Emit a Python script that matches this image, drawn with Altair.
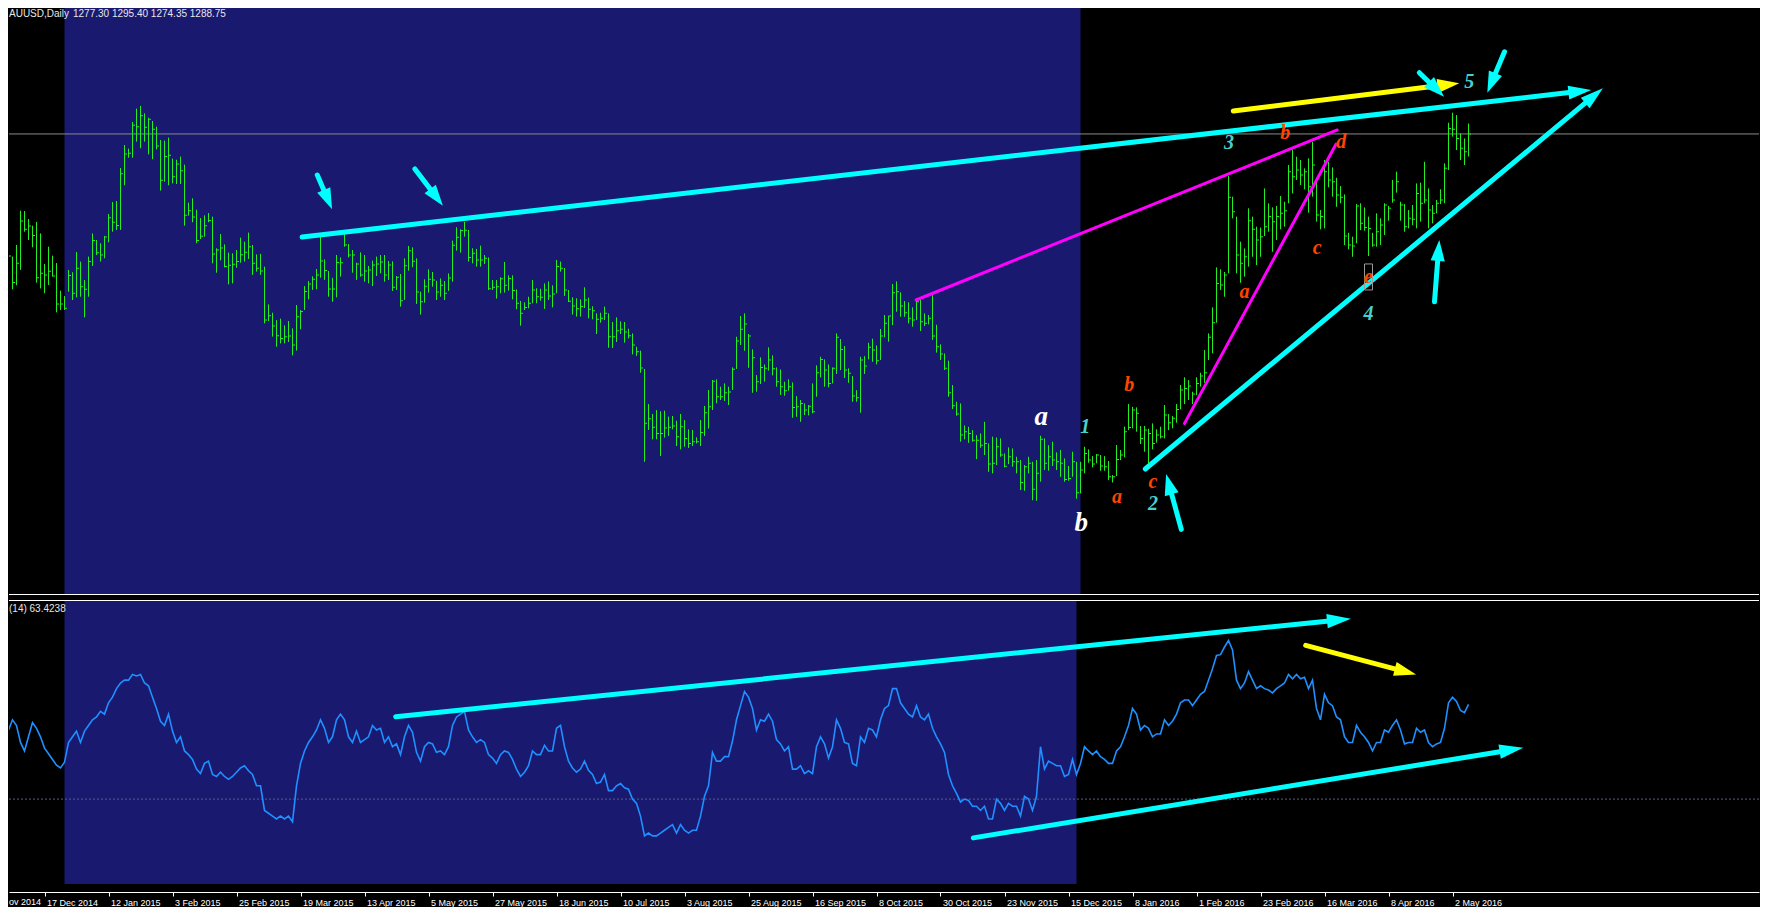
import math
import altair as alt
import pandas as pd

# ---------------- data ----------------
BAR_HIGH = [
    1217.3, 1216.0, 1210.5, 1217.9, 1239.8, 1239.6, 1234.5, 1230.2, 1232.6, 1225.3,
    1205.8, 1216.8, 1211.1, 1206.4, 1188.8, 1185.3, 1202.0, 1200.5, 1213.4, 1207.3,
    1195.6, 1210.5, 1225.3, 1221.1, 1219.0, 1223.6, 1237.7, 1245.3, 1246.0, 1267.0,
    1281.7, 1279.4, 1296.4, 1304.9, 1306.6, 1301.9, 1299.1, 1297.0, 1293.4, 1284.9,
    1284.5, 1286.4, 1273.0, 1272.3, 1274.3, 1269.2, 1244.9, 1247.7, 1240.4, 1235.1,
    1236.8, 1238.3, 1236.0, 1215.8, 1224.9, 1218.3, 1213.0, 1212.6, 1214.7, 1222.6,
    1220.0, 1225.8, 1217.9, 1211.9, 1212.2, 1204.1, 1180.0, 1174.7, 1170.0, 1170.9,
    1166.6, 1169.4, 1164.7, 1179.6, 1176.4, 1191.7, 1194.9, 1197.9, 1202.6, 1223.2,
    1208.7, 1201.3, 1197.0, 1211.5, 1210.0, 1224.9, 1218.5, 1214.7, 1206.6, 1213.2,
    1211.5, 1204.5, 1207.9, 1210.5, 1211.5, 1211.5, 1207.7, 1207.5, 1198.1, 1199.4,
    1209.4, 1217.3, 1216.4, 1209.4, 1188.1, 1196.0, 1202.4, 1200.7, 1195.1, 1196.6,
    1194.9, 1199.8, 1220.7, 1229.2, 1227.9, 1232.6, 1227.5, 1215.8, 1215.4, 1217.5,
    1211.5, 1210.0, 1195.6, 1195.6, 1197.3, 1207.1, 1198.5, 1198.5, 1189.6, 1182.2,
    1181.3, 1184.9, 1195.6, 1190.3, 1190.0, 1193.4, 1194.7, 1192.2, 1208.3, 1207.3,
    1203.2, 1189.2, 1184.5, 1183.9, 1183.2, 1190.9, 1184.3, 1178.8, 1174.3, 1174.7,
    1178.6, 1174.3, 1168.8, 1171.7, 1169.2, 1168.8, 1164.5, 1161.5, 1153.0, 1150.5,
    1138.8, 1116.4, 1110.1, 1112.6, 1111.8, 1112.2, 1108.4, 1108.8, 1105.8, 1110.1,
    1106.2, 1100.3, 1099.9, 1095.2, 1106.2, 1115.2, 1125.4, 1131.8, 1132.2, 1127.5,
    1129.6, 1127.5, 1139.8, 1159.4, 1172.6, 1174.3, 1161.1, 1151.3, 1134.9, 1146.2,
    1141.7, 1152.6, 1147.5, 1139.8, 1138.5, 1130.7, 1132.2, 1130.2, 1121.5, 1119.0,
    1116.8, 1115.8, 1129.6, 1141.1, 1146.6, 1144.9, 1141.7, 1139.8, 1161.5, 1157.9,
    1153.4, 1139.2, 1134.3, 1125.3, 1146.6, 1147.0, 1155.5, 1158.1, 1153.8, 1164.3,
    1173.2, 1172.8, 1193.0, 1194.7, 1187.7, 1182.1, 1181.3, 1178.1, 1183.2, 1182.8,
    1174.3, 1173.2, 1185.8, 1167.0, 1154.5, 1148.7, 1144.1, 1128.5, 1117.9, 1116.8,
    1102.8, 1101.9, 1099.8, 1096.6, 1097.7, 1105.1, 1091.3, 1095.6, 1095.1, 1094.5,
    1084.9, 1088.8, 1088.1, 1082.8, 1080.7, 1077.5, 1082.8, 1079.6, 1080.7, 1096.2,
    1094.5, 1090.2, 1092.4, 1085.6, 1087.1, 1081.7, 1076.9, 1086.0, 1079.6, 1079.6,
    1089.2, 1087.5, 1083.2, 1084.5, 1083.9, 1083.2, 1080.1, 1071.1, 1090.3, 1087.1,
    1102.0, 1116.4, 1114.7, 1114.3, 1102.4, 1102.4, 1100.7, 1104.1, 1100.3, 1102.0,
    1115.8, 1110.0, 1108.8, 1116.4, 1128.6, 1133.5, 1131.7, 1124.3, 1133.5, 1136.4,
    1150.9, 1161.5, 1178.1, 1203.6, 1202.4, 1200.7, 1261.9, 1248.7, 1236.0, 1220.0,
    1215.7, 1241.3, 1236.0, 1229.6, 1229.0, 1254.0, 1244.5, 1241.9, 1242.8, 1249.1,
    1245.5, 1268.9, 1278.9, 1274.2, 1272.1, 1266.8, 1273.2, 1283.8, 1258.3, 1240.2,
    1272.1, 1271.0, 1267.4, 1260.8, 1255.5, 1250.2, 1225.7, 1223.2, 1244.0, 1244.5,
    1241.9, 1236.0, 1225.7, 1238.1, 1234.9, 1244.5, 1242.8, 1259.4, 1264.7, 1245.5,
    1244.0, 1240.2, 1243.4, 1257.2, 1257.7, 1271.0, 1254.0, 1243.4, 1246.6, 1253.4,
    1270.0, 1295.9, 1302.3, 1300.8, 1289.1, 1285.9, 1295.40,
]
BAR_LOW = [
    1197.3, 1204.1, 1189.6, 1192.2, 1202.0, 1226.4, 1221.1, 1216.4, 1193.9, 1190.2,
    1187.1, 1192.4, 1197.7, 1174.9, 1176.4, 1176.4, 1188.1, 1182.8, 1184.5, 1184.9,
    1171.7, 1184.9, 1204.5, 1211.5, 1207.3, 1209.4, 1219.6, 1226.4, 1227.5, 1227.5,
    1256.0, 1273.6, 1273.6, 1283.8, 1279.6, 1283.8, 1275.7, 1272.6, 1278.9, 1252.6,
    1258.3, 1256.0, 1257.2, 1256.8, 1256.8, 1230.2, 1236.6, 1232.4, 1219.0, 1221.7,
    1223.2, 1232.4, 1206.2, 1200.2, 1208.1, 1203.6, 1192.8, 1193.4, 1203.4, 1206.6,
    1207.3, 1209.0, 1198.8, 1200.9, 1198.8, 1167.9, 1169.4, 1159.4, 1153.0, 1155.1,
    1155.1, 1156.0, 1147.5, 1150.5, 1164.1, 1176.4, 1183.2, 1189.2, 1189.6, 1197.0,
    1195.6, 1184.9, 1181.7, 1184.5, 1197.7, 1216.8, 1210.0, 1200.2, 1195.6, 1197.7,
    1194.5, 1193.4, 1191.7, 1198.1, 1199.8, 1194.5, 1195.6, 1188.6, 1189.2, 1178.6,
    1182.8, 1201.5, 1203.7, 1180.3, 1173.5, 1181.1, 1187.5, 1191.3, 1182.8, 1184.9,
    1182.8, 1188.6, 1194.5, 1214.3, 1213.0, 1223.2, 1207.3, 1206.2, 1204.1, 1204.1,
    1205.8, 1189.2, 1189.2, 1183.7, 1187.1, 1187.5, 1188.8, 1183.2, 1176.9, 1166.4,
    1176.4, 1177.5, 1180.7, 1180.7, 1182.4, 1177.1, 1182.8, 1178.1, 1187.1, 1200.9,
    1185.4, 1181.5, 1173.5, 1172.2, 1172.2, 1177.7, 1171.1, 1170.5, 1161.1, 1168.3,
    1170.0, 1152.4, 1152.2, 1156.0, 1161.1, 1155.6, 1158.3, 1148.1, 1147.1, 1136.4,
    1079.6, 1099.9, 1093.9, 1093.9, 1083.3, 1095.0, 1096.0, 1100.3, 1089.6, 1087.5,
    1089.2, 1088.4, 1089.6, 1091.3, 1089.6, 1096.0, 1100.7, 1112.6, 1116.9, 1119.0,
    1118.4, 1115.8, 1125.4, 1138.8, 1154.1, 1150.4, 1139.6, 1123.6, 1124.3, 1129.2,
    1130.7, 1137.7, 1134.7, 1127.5, 1122.2, 1121.7, 1124.9, 1107.7, 1108.3, 1105.1,
    1109.4, 1109.2, 1110.5, 1121.1, 1133.4, 1127.5, 1127.1, 1129.6, 1135.6, 1138.1,
    1133.0, 1130.0, 1117.9, 1117.9, 1110.9, 1135.6, 1144.9, 1143.4, 1141.7, 1144.5,
    1159.0, 1156.2, 1166.8, 1175.3, 1172.1, 1172.1, 1167.9, 1165.8, 1170.0, 1163.0,
    1166.2, 1167.2, 1157.3, 1149.2, 1144.5, 1138.1, 1121.1, 1113.2, 1109.0, 1092.4,
    1093.9, 1091.7, 1092.4, 1081.3, 1088.5, 1083.9, 1073.2, 1072.2, 1077.5, 1082.8,
    1076.0, 1078.1, 1076.4, 1072.2, 1061.5, 1061.1, 1072.2, 1055.1, 1054.7, 1066.9,
    1074.3, 1073.9, 1076.9, 1074.3, 1070.0, 1066.9, 1067.5, 1070.0, 1056.0, 1059.4,
    1072.2, 1079.0, 1076.0, 1078.6, 1073.9, 1073.9, 1067.9, 1066.4, 1070.5, 1080.7,
    1082.4, 1099.8, 1100.9, 1098.8, 1090.9, 1086.0, 1078.6, 1087.5, 1091.8, 1094.5,
    1094.5, 1099.8, 1100.9, 1104.5, 1113.0, 1116.4, 1119.0, 1116.4, 1122.2, 1127.5,
    1130.0, 1144.5, 1148.8, 1168.3, 1189.2, 1184.9, 1199.8, 1234.9, 1199.8, 1193.8,
    1197.7, 1204.1, 1210.4, 1205.1, 1210.4, 1223.6, 1226.4, 1213.6, 1221.1, 1227.9,
    1229.6, 1244.5, 1250.8, 1259.4, 1256.2, 1253.4, 1238.5, 1248.7, 1232.8, 1227.9,
    1228.5, 1254.7, 1248.7, 1242.3, 1244.5, 1217.9, 1215.1, 1210.4, 1219.0, 1227.4,
    1227.0, 1210.9, 1216.8, 1216.8, 1217.9, 1224.3, 1233.4, 1244.9, 1251.3, 1233.4,
    1226.4, 1228.5, 1230.6, 1228.5, 1232.8, 1244.5, 1228.5, 1231.7, 1238.1, 1244.0,
    1244.5, 1265.7, 1287.0, 1278.5, 1272.1, 1268.9, 1274.35,
]
BAR_CLOSE = [
    1212.2, 1210.9, 1193.9, 1206.2, 1233.2, 1227.9, 1230.0, 1223.9, 1197.0, 1199.8,
    1198.7, 1201.1, 1198.1, 1180.3, 1180.3, 1177.5, 1198.5, 1187.1, 1203.0, 1191.3,
    1189.6, 1207.3, 1220.7, 1213.0, 1211.5, 1223.0, 1235.3, 1232.4, 1230.4, 1263.4,
    1276.0, 1276.4, 1294.3, 1293.4, 1300.4, 1293.0, 1298.1, 1291.7, 1281.1, 1259.2,
    1274.3, 1275.1, 1261.5, 1269.6, 1265.3, 1236.8, 1239.8, 1235.8, 1220.7, 1223.4,
    1230.2, 1233.6, 1212.2, 1214.7, 1216.0, 1204.1, 1204.9, 1205.6, 1207.3, 1211.7,
    1213.2, 1216.8, 1206.2, 1203.0, 1201.3, 1170.0, 1172.8, 1166.2, 1160.0, 1158.3,
    1159.4, 1159.8, 1154.1, 1172.2, 1175.4, 1188.3, 1193.0, 1196.0, 1198.7, 1207.7,
    1201.7, 1189.8, 1189.8, 1206.8, 1206.6, 1217.9, 1211.5, 1211.5, 1205.8, 1198.7,
    1201.3, 1201.9, 1205.1, 1205.8, 1207.1, 1198.8, 1205.1, 1190.9, 1197.3, 1182.4,
    1204.7, 1214.3, 1207.5, 1187.9, 1181.7, 1191.5, 1196.0, 1195.6, 1187.9, 1192.2,
    1187.1, 1196.8, 1217.7, 1222.8, 1227.1, 1227.3, 1210.0, 1212.6, 1208.3, 1208.3,
    1209.4, 1190.0, 1190.9, 1191.3, 1196.4, 1192.2, 1196.6, 1188.8, 1180.7, 1174.3,
    1178.1, 1180.7, 1189.2, 1184.9, 1184.5, 1189.2, 1185.4, 1186.6, 1204.1, 1203.0,
    1189.2, 1182.0, 1179.0, 1177.3, 1178.6, 1182.8, 1176.9, 1176.0, 1170.5, 1171.1,
    1174.3, 1159.4, 1159.4, 1163.2, 1164.1, 1162.4, 1160.0, 1154.1, 1149.8, 1139.4,
    1104.1, 1107.1, 1101.6, 1097.7, 1097.7, 1101.1, 1101.6, 1102.4, 1095.6, 1102.0,
    1094.5, 1091.3, 1092.4, 1092.4, 1098.2, 1110.9, 1114.7, 1130.9, 1121.1, 1121.1,
    1123.7, 1124.1, 1138.6, 1156.6, 1164.1, 1167.5, 1159.8, 1146.0, 1130.7, 1139.8,
    1139.2, 1144.5, 1139.0, 1130.7, 1127.5, 1124.9, 1127.5, 1114.3, 1114.7, 1116.8,
    1112.6, 1115.1, 1111.5, 1136.4, 1144.9, 1138.1, 1129.6, 1139.2, 1159.0, 1151.3,
    1138.1, 1136.0, 1121.5, 1120.5, 1144.5, 1140.7, 1152.6, 1150.9, 1144.1, 1159.8,
    1167.9, 1172.6, 1187.5, 1188.1, 1178.9, 1174.7, 1171.1, 1170.0, 1181.7, 1168.9,
    1167.9, 1171.1, 1159.8, 1153.0, 1148.3, 1139.2, 1123.6, 1115.3, 1110.0, 1096.6,
    1098.8, 1097.7, 1093.4, 1093.4, 1090.2, 1091.3, 1078.1, 1078.6, 1089.2, 1083.9,
    1076.8, 1082.8, 1079.6, 1079.6, 1066.4, 1076.4, 1078.6, 1062.0, 1072.2, 1093.9,
    1078.6, 1082.8, 1080.7, 1079.6, 1078.6, 1068.3, 1069.0, 1079.6, 1059.8, 1074.3,
    1084.9, 1080.7, 1078.1, 1083.9, 1076.9, 1076.4, 1070.0, 1070.1, 1081.1, 1083.9,
    1098.8, 1101.5, 1112.6, 1110.5, 1094.5, 1099.8, 1097.7, 1091.3, 1096.6, 1095.6,
    1109.4, 1104.5, 1107.3, 1113.0, 1125.4, 1126.4, 1127.9, 1122.8, 1129.6, 1134.3,
    1136.4, 1159.0, 1168.3, 1193.4, 1192.4, 1198.7, 1248.3, 1239.1, 1211.5, 1206.2,
    1210.4, 1233.4, 1227.9, 1221.1, 1223.2, 1229.6, 1236.0, 1232.8, 1236.0, 1238.1,
    1239.8, 1264.7, 1261.5, 1265.7, 1262.5, 1264.7, 1255.1, 1268.9, 1237.0, 1236.0,
    1264.7, 1259.4, 1258.3, 1249.8, 1248.3, 1223.6, 1217.9, 1217.2, 1242.8, 1231.7,
    1229.1, 1228.5, 1217.9, 1226.4, 1230.6, 1243.4, 1241.3, 1246.6, 1258.3, 1243.4,
    1229.6, 1234.9, 1234.3, 1250.8, 1244.5, 1246.6, 1240.2, 1238.1, 1244.5, 1246.6,
    1266.8, 1292.3, 1291.7, 1285.9, 1279.6, 1277.4, 1288.75,
]
RSI_VALUES = [
    52.4, 54.4, 58, 56, 50, 47, 52, 57, 55, 52,
    48, 46, 44, 42, 41, 43, 50, 52, 54, 50,
    54, 56, 58, 59, 61, 60, 64, 66, 69, 71,
    72, 72, 74, 73.5, 74, 71, 70, 66, 62, 57.5,
    56, 60, 54, 50, 52, 47, 45.7, 44, 40.6, 39,
    42.6, 43.4, 38.7, 38, 39.5, 38, 37, 38, 39.5, 41,
    41.8, 40, 38.7, 34.7, 34.7, 26, 25, 24, 23, 24,
    23, 24, 22, 34.7, 42.6, 47, 50, 52, 54.4, 58,
    55, 50, 52, 58, 60, 58, 52, 50, 54, 50,
    51, 52, 56, 54.4, 55, 50, 52, 48.5, 49.5, 45.7,
    52, 56, 53.6, 46.5, 43.4, 48.5, 50, 49.5, 46.5, 47,
    45.7, 48.5, 56, 59, 60, 61, 54.4, 52, 50, 51,
    50, 45.7, 44.5, 42.6, 45.7, 47, 46.5, 44, 40.6, 38,
    39.5, 41.8, 47, 45.7, 45.7, 49, 47, 47, 55, 56,
    48.5, 43.4, 41, 39.5, 40.6, 43.4, 40.2, 38.7, 35.5, 36,
    38.7, 33, 33, 34.7, 35.5, 34, 33.5, 30, 28.5, 24,
    17, 18, 17, 17, 18, 19, 20, 21, 18, 21,
    19, 18, 19, 19, 24, 31, 34.7, 46.5, 43.4, 43.4,
    45, 45, 50.5, 58, 63, 68, 66, 62, 54.4, 58,
    57.5, 60, 57.5, 51, 49.5, 47, 48.5, 40.6, 40.6, 41.8,
    39, 40, 39, 48.5, 52, 49.5, 44.5, 48.5, 58, 55,
    50, 49.5, 42.6, 41.8, 52, 50, 55, 54.4, 52, 58,
    62, 63, 69, 69, 64, 62, 60, 59, 63, 59,
    58, 60, 55, 52, 49.5, 46.5, 38.7, 34.7, 32, 29,
    30, 29.5, 27.5, 27.5, 26, 27.5, 23, 23, 30, 28.5,
    26, 28.5, 27.5, 27.5, 24, 31, 30, 26, 31, 48.5,
    40.6, 43.4, 42.6, 41.8, 41.8, 38, 38.7, 44, 38.7, 42.6,
    48.5, 47, 45.7, 47, 45, 44, 42.6, 42.6, 47, 48.5,
    52, 56, 62, 60, 54.4, 56, 55, 52, 53, 53,
    58, 56, 57.5, 60, 64, 65, 65, 63, 65, 67,
    68, 72, 76, 80.7, 81, 83.7, 86, 82.7, 72, 69,
    71, 75, 72, 69, 70, 69, 68.5, 67.5, 69, 70,
    71, 74, 72.5, 74, 72.5, 73, 69, 72, 62, 58,
    67, 64, 63, 59, 58, 52, 50, 50, 56, 53.6,
    52, 50, 47, 50, 50, 54.4, 53.6, 56, 58, 54.4,
    49.5, 50, 50, 55, 53.6, 54.4, 50, 48.5, 49.5, 50,
    55, 64, 66, 64.5, 61.3, 60.5, 63.42,
]

AXIS_BARS = [10, 26, 42, 58, 74, 90, 106, 122, 138, 154, 170, 186,
             202, 218, 234, 250, 266, 282, 298, 314, 330, 346, 362]
AXIS_LABELS = ["17 Dec 2014", "12 Jan 2015", "3 Feb 2015", "25 Feb 2015", "19 Mar 2015",
               "13 Apr 2015", "5 May 2015", "27 May 2015", "18 Jun 2015", "10 Jul 2015",
               "3 Aug 2015", "25 Aug 2015", "16 Sep 2015", "8 Oct 2015", "30 Oct 2015",
               "23 Nov 2015", "15 Dec 2015", "8 Jan 2016", "1 Feb 2016", "23 Feb 2016",
               "16 Mar 2016", "8 Apr 2016", "2 May 2016"]

LAST_PRICE = 1288.75
RSI_LEVEL = 30
SHADE_PRICE = (15, 269)
SHADE_RSI = (15, 268)

# trend lines / arrows (bar index, price)
CYAN_TRENDS = [(74.4, 1223.0, 396.7, 1316.8), (285.2, 1075.0, 399.6, 1317.9)]
YELLOW_TRENDS = [(307.2, 1303.4, 363.7, 1321.1)]
MAGENTA_TRENDS = [(227.9, 1182.8, 333.2, 1291.3), (295.0, 1104.1, 332.9, 1282.3)]
CYAN_POINTERS = [(78.2, 1262.5, 81.9, 1240.7), (102.6, 1266.4, 109.6, 1243.0),
                 (294.2, 1036.5, 290.4, 1071.8), (357.5, 1181.7, 358.7, 1221.1),
                 (375.0, 1341.2, 370.7, 1315.1), (353.7, 1327.8, 359.9, 1312.5)]
# RSI window arrows (bar index, RSI)
RSI_CYAN = [(97.8, 59.1, 336.6, 93.7), (242.2, 16.3, 379.7, 48.1)]
RSI_YELLOW = [(325.3, 84.3, 352.9, 74.0)]

WAVE_TEXT = ["a", "b", "1", "a", "b", "c", "2", "a", "3", "b", "c", "d", "e", "4", "5"]
WAVE_BAR = [259.2, 269.2, 270.2, 278.1, 281.2, 287.1, 287.1, 310.0, 306.1, 320.2, 328.2, 334.2, 341.0, 341.0, 366.2]
WAVE_PRICE = [1108.2, 1040.3, 1102.0, 1057.3, 1128.6, 1066.8, 1052.7, 1188.1, 1282.8, 1289.6, 1215.8, 1283.6, 1197.7, 1173.9, 1322.1]
WAVE_KIND = ["white", "white", "teal", "orange", "orange", "orange", "teal", "orange", "teal",
             "orange", "orange", "orange", "orange", "teal", "teal"]
E_BOX = (340, 342, 1205.8, 1189.2)

# ---------------- layout ----------------
W, HP, HR = 1750, 587, 292
XMIN = 1.125
XMAX = XMIN + W / 4.0
PMIN, PMAX = 994.6, 1369.1
RMIN, RMAX = -2.8, 100.3

BG_BLUE = "#191970"
BAR_GREEN = "#22ee22"
CYAN = "#00ffff"
YELLOW = "#ffff00"
MAGENTA = "#ff00ff"
KIND_COLORS = {"white": "#ffffff", "teal": "#48d1cc", "orange": "#ff4500"}
KIND_SIZES = {"white": 27, "teal": 20, "orange": 20}
UI_FONT = "Liberation Sans"

XS = alt.Scale(domain=[XMIN, XMAX], nice=False, zero=False)
PS = alt.Scale(domain=[PMIN, PMAX], nice=False, zero=False)
RS = alt.Scale(domain=[RMIN, RMAX], nice=False, zero=False)
SX = W / (XMAX - XMIN)

X_AXIS = alt.Axis(
    values=AXIS_BARS,
    labelExpr="{}[round((datum.value - {}) / 16)]".format(
        "[" + ",".join("'" + s + "'" for s in AXIS_LABELS) + "]", AXIS_BARS[0]),
    labelAlign="left", labelOffset=2, labelColor="#ffffff", labelFont=UI_FONT,
    labelFontSize=9, labelPadding=2, tickColor="#ffffff", tickSize=4, tickWidth=1,
    domainColor="#ffffff", domainWidth=1, grid=False, title=None,
    labelOverlap=False, labelFlush=False)

n = min(len(BAR_HIGH), len(BAR_LOW), len(BAR_CLOSE), len(RSI_VALUES))
bars = pd.DataFrame({"i": list(range(n)), "high": BAR_HIGH[:n], "low": BAR_LOW[:n],
                     "close": BAR_CLOSE[:n], "rsi": RSI_VALUES[:n]})


def arrow_frames(segs, ymin, ymax, h, head_len, with_head=True):
    sy = h / (ymax - ymin)
    lines, heads = [], []
    for (x1, y1, x2, y2) in segs:
        dx = (x2 - x1) * SX
        dy = -(y2 - y1) * sy
        L = math.hypot(dx, dy)
        ang = math.degrees(math.atan2(dx, -dy)) % 360
        if with_head:
            back = head_len * 0.6
            ex = x2 - dx / L * back / SX
            ey = y2 + dy / L * back / sy
        else:
            ex, ey = x2, y2
        lines.append({"x1": x1, "y1": y1, "x2": ex, "y2": ey})
        heads.append({"tx": x2, "ty": y2, "ang": ang, "sz": 4 * head_len ** 2})
    return pd.DataFrame(lines), pd.DataFrame(heads)


def head_shape(w):
    return "M0,0L{0},1L-{0},1Z".format(w)


def line_layer(df, yscale, color, width, xaxis=None):
    return alt.Chart(df).mark_rule(color=color, strokeWidth=width, strokeCap="round", clip=True).encode(
        x=alt.X("x1:Q", scale=XS, axis=xaxis), y=alt.Y("y1:Q", scale=yscale, axis=None),
        x2="x2:Q", y2="y2:Q")


def head_layer(df, yscale, color, w, xaxis=None):
    return alt.Chart(df).mark_point(shape=head_shape(w), filled=True, color=color, opacity=1,
                                    strokeWidth=0, clip=True).encode(
        x=alt.X("tx:Q", scale=XS, axis=xaxis), y=alt.Y("ty:Q", scale=yscale, axis=None),
        angle=alt.Angle("ang:Q", scale=None),
        size=alt.Size("sz:Q", scale=None, legend=None))


# ---------------- price window ----------------
shade_p = alt.Chart(pd.DataFrame({"a": [SHADE_PRICE[0]], "b": [SHADE_PRICE[1]],
                                  "lo": [PMIN], "hi": [PMAX]})).mark_rect(color=BG_BLUE, clip=True).encode(
    x=alt.X("a:Q", scale=XS, axis=None), x2="b:Q",
    y=alt.Y("lo:Q", scale=PS, axis=None), y2="hi:Q")

last_line = alt.Chart(pd.DataFrame({"p": [LAST_PRICE]})).mark_rule(color="#8a8a8a", strokeWidth=1).encode(
    y=alt.Y("p:Q", scale=PS, axis=None))

hl = alt.Chart(bars).mark_rule(color=BAR_GREEN, strokeWidth=1, clip=True).encode(
    x=alt.X("i:Q", scale=XS, axis=None), y=alt.Y("low:Q", scale=PS, axis=None), y2="high:Q")

cl = alt.Chart(bars).mark_tick(color=BAR_GREEN, orient="horizontal", size=2, thickness=1,
                               xOffset=1.5, opacity=1, clip=True).encode(
    x=alt.X("i:Q", scale=XS, axis=None), y=alt.Y("close:Q", scale=PS, axis=None))

mag_l, _ = arrow_frames(MAGENTA_TRENDS, PMIN, PMAX, HP, 0, with_head=False)
cy_l, cy_h = arrow_frames(CYAN_TRENDS, PMIN, PMAX, HP, 23)
ye_l, ye_h = arrow_frames(YELLOW_TRENDS, PMIN, PMAX, HP, 22)
po_l, po_h = arrow_frames(CYAN_POINTERS, PMIN, PMAX, HP, 21)

ebox = alt.Chart(pd.DataFrame({"a": [E_BOX[0]], "b": [E_BOX[1]], "t": [E_BOX[2]], "u": [E_BOX[3]]})).mark_rect(
    fill=None, stroke="#9a9a9a", strokeWidth=1, clip=True).encode(
    x=alt.X("a:Q", scale=XS, axis=None), x2="b:Q", y=alt.Y("t:Q", scale=PS, axis=None), y2="u:Q")

waves = pd.DataFrame({"t": WAVE_TEXT, "x": WAVE_BAR, "y": WAVE_PRICE,
                      "c": [KIND_COLORS[k] for k in WAVE_KIND],
                      "fs": [KIND_SIZES[k] for k in WAVE_KIND]})
wave_text = alt.Chart(waves).mark_text(font="Liberation Serif", fontStyle="italic", fontWeight="bold",
                                       align="center", baseline="middle", clip=True).encode(
    x=alt.X("x:Q", scale=XS, axis=None), y=alt.Y("y:Q", scale=PS, axis=None), text="t:N",
    color=alt.Color("c:N", scale=None), size=alt.Size("fs:Q", scale=None, legend=None))

title1 = alt.Chart(pd.DataFrame({"t": ["AUUSD,Daily"]})).mark_text(
    font=UI_FONT, fontSize=10, color="#e6e6e6", align="left", baseline="top").encode(
    x=alt.value(0), y=alt.value(1), text="t:N")
title2 = alt.Chart(pd.DataFrame({"t": ["1277.30 1295.40 1274.35 1288.75"]})).mark_text(
    font=UI_FONT, fontSize=10, color="#e6e6e6", align="left", baseline="top").encode(
    x=alt.value(64), y=alt.value(1), text="t:N")

sep_p = alt.Chart(pd.DataFrame({"k": [0]})).mark_rule(color="#ffffff", strokeWidth=1).encode(
    x=alt.value(0), x2=alt.value(W), y=alt.value(HP - 0.5))

price = alt.layer(
    shade_p, last_line, hl, cl,
    line_layer(mag_l, PS, MAGENTA, 3),
    line_layer(cy_l, PS, CYAN, 5), head_layer(cy_h, PS, CYAN, 0.3),
    line_layer(ye_l, PS, YELLOW, 5), head_layer(ye_h, PS, YELLOW, 0.32),
    line_layer(po_l, PS, CYAN, 5), head_layer(po_h, PS, CYAN, 0.34),
    ebox, wave_text, title1, title2, sep_p,
).properties(width=W, height=HP)

# ---------------- RSI window ----------------
shade_r = alt.Chart(pd.DataFrame({"a": [SHADE_RSI[0]], "b": [SHADE_RSI[1]], "lo": [0], "hi": [100]})).mark_rect(
    color=BG_BLUE, clip=True).encode(
    x=alt.X("a:Q", scale=XS, axis=X_AXIS),
    x2="b:Q", y=alt.Y("lo:Q", scale=RS, axis=None), y2="hi:Q")

level = alt.Chart(pd.DataFrame({"lv": [RSI_LEVEL]})).mark_rule(
    color="#5c5c8c", strokeWidth=1, strokeDash=[2, 2]).encode(y=alt.Y("lv:Q", scale=RS, axis=None))

rsi_line = alt.Chart(bars).mark_line(color="#1e90ff", strokeWidth=1.6, clip=True).encode(
    x=alt.X("i:Q", scale=XS, axis=X_AXIS), y=alt.Y("rsi:Q", scale=RS, axis=None))

rc_l, rc_h = arrow_frames(RSI_CYAN, RMIN, RMAX, HR, 24)
ry_l, ry_h = arrow_frames(RSI_YELLOW, RMIN, RMAX, HR, 22)

rsi_title = alt.Chart(pd.DataFrame({"t": ["(14) 63.4238"]})).mark_text(
    font=UI_FONT, fontSize=10, color="#e6e6e6", align="left", baseline="top").encode(
    x=alt.value(0), y=alt.value(4), text="t:N")
cut_label = alt.Chart(pd.DataFrame({"t": ["ov 2014"]})).mark_text(
    font=UI_FONT, fontSize=9, color="#ffffff", align="left", baseline="top").encode(
    x=alt.value(0), y=alt.value(HR + 6), text="t:N")
sep_r = alt.Chart(pd.DataFrame({"k": [0]})).mark_rule(color="#ffffff", strokeWidth=1).encode(
    x=alt.value(0), x2=alt.value(W), y=alt.value(0.5))

rsi = alt.layer(
    shade_r, level, rsi_line,
    line_layer(rc_l, RS, CYAN, 5, X_AXIS), head_layer(rc_h, RS, CYAN, 0.3, X_AXIS),
    line_layer(ry_l, RS, YELLOW, 5, X_AXIS), head_layer(ry_h, RS, YELLOW, 0.32, X_AXIS),
    rsi_title, cut_label, sep_r,
).properties(width=W, height=HR)

chart = alt.vconcat(price, rsi, spacing=5).properties(
    background="#000000", padding=0
).configure_view(stroke=None)

chart.save("out.html", embed_options={"renderer": "svg", "actions": False})
